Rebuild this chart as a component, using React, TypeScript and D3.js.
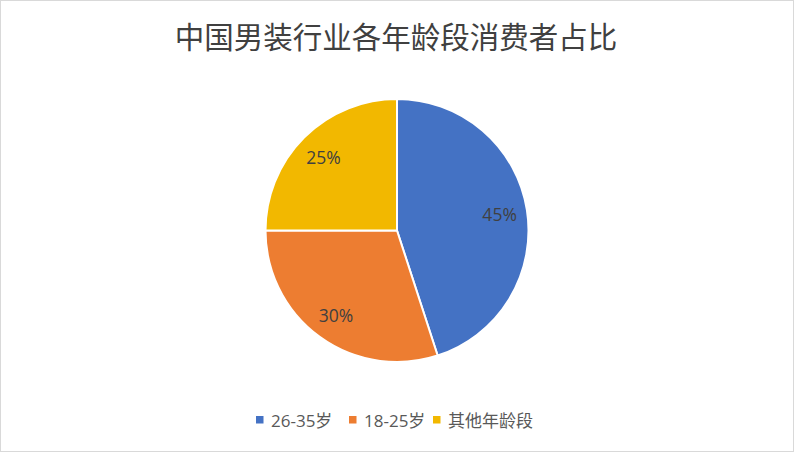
import { useEffect, useRef } from "react";
import * as d3 from "d3";

const title = "中国男装行业各年龄段消费者占比";
const categories = ["26-35岁", "18-25岁", "其他年龄段"];
const shares = [45, 30, 25];
const colors = ["#4472C4", "#ED7D31", "#F2B800"];

type Slice = { name: string; value: number; color: string };

const W = 794;
const H = 452;

export default function App() {
  const svgRef = useRef<SVGSVGElement | null>(null);

  useEffect(() => {
    const svg = d3.select(svgRef.current);
    svg.selectAll("*").remove();
    if (!svgRef.current) return;

    const slices: Slice[] = categories.map((name, i) => ({
      name,
      value: shares[i],
      color: colors[i],
    }));

    svg
      .append("rect")
      .attr("x", 0.5)
      .attr("y", 0.5)
      .attr("width", W - 1)
      .attr("height", H - 1)
      .attr("fill", "#fff")
      .attr("stroke", "#D9D9D9");

    svg
      .append("text")
      .attr("x", W / 2 - 1)
      .attr("y", 35)
      .attr("text-anchor", "middle")
      .attr("dominant-baseline", "central")
      .attr("font-family", "'Noto Sans CJK SC', sans-serif")
      .attr("font-size", 29.5)
      .attr("fill", "#404040")
      .text(title);

    const cx = 397;
    const cy = 230.5;
    const r = 131.5;

    const pie = d3
      .pie<Slice>()
      .sort(null)
      .value((d) => d.value);
    const arcs = pie(slices);
    const arc = d3.arc<d3.PieArcDatum<Slice>>().innerRadius(0).outerRadius(r);
    const labelArc = d3
      .arc<d3.PieArcDatum<Slice>>()
      .innerRadius(r * 0.79)
      .outerRadius(r * 0.79);

    const g = svg.append("g").attr("transform", `translate(${cx},${cy})`);

    g.selectAll("path")
      .data(arcs)
      .join("path")
      .attr("d", arc)
      .attr("fill", (d) => d.data.color)
      .attr("stroke", "#fff")
      .attr("stroke-width", 2)
      .attr("stroke-linejoin", "round");

    g.selectAll("text")
      .data(arcs)
      .join("text")
      .attr("transform", (d) => `translate(${labelArc.centroid(d)})`)
      .attr("text-anchor", "middle")
      .attr("dominant-baseline", "central")
      .attr("font-family", "'Open Sans', 'Noto Sans', sans-serif")
      .attr("font-size", 17.5)
      .attr("fill", "#404040")
      .text((d) => `${d.data.value}%`);

    // legend
    const legendX = [256, 349, 433];
    const ly = 420;
    const lg = svg
      .append("g")
      .selectAll("g")
      .data(slices)
      .join("g")
      .attr("transform", (_d, i) => `translate(${legendX[i]},${ly})`);
    lg.append("rect")
      .attr("x", 0)
      .attr("y", -4)
      .attr("width", 7.5)
      .attr("height", 7.5)
      .attr("fill", (d) => d.color);
    lg.append("text")
      .attr("x", 15)
      .attr("y", 0)
      .attr("dominant-baseline", "central")
      .attr("font-family", "'Open Sans', 'Noto Sans CJK SC', sans-serif")
      .attr("font-size", 17)
      .attr("fill", "#595959")
      .text((d) => d.name);
  }, []);

  return (
    <svg
      ref={svgRef}
      width={W}
      height={H}
      viewBox={`0 0 ${W} ${H}`}
      style={{ position: "fixed", left: 0, top: 0, display: "block" }}
    />
  );
}
